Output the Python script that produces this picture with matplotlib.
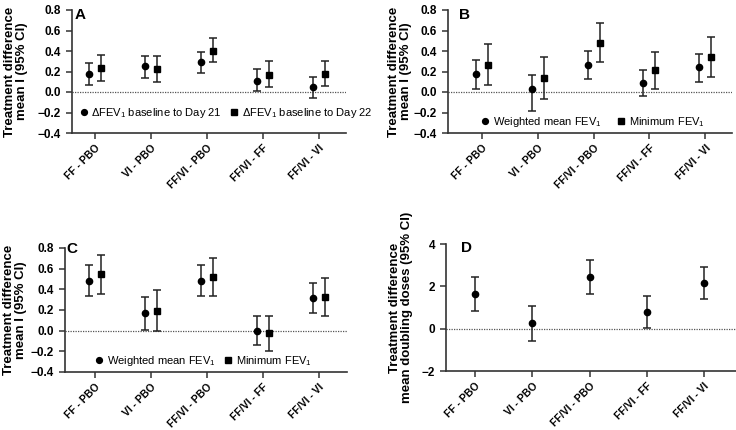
import matplotlib
matplotlib.use("Agg")
import matplotlib.pyplot as plt
from matplotlib.lines import Line2D
import numpy as np

plt.rcParams['font.family'] = ['Liberation Sans', 'DejaVu Sans']
plt.rcParams['mathtext.default'] = 'regular'

categories = ["FF - PBO", "VI - PBO", "FF/VI - PBO", "FF/VI - FF", "FF/VI - VI"]

# panel A: change in FEV1 from baseline
a_d21 = [0.18, 0.25, 0.29, 0.11, 0.05]
a_d21_lo = [0.07, 0.14, 0.19, 0.01, -0.06]
a_d21_hi = [0.28, 0.35, 0.39, 0.22, 0.15]
a_d22 = [0.23, 0.22, 0.40, 0.17, 0.18]
a_d22_lo = [0.11, 0.10, 0.29, 0.05, 0.06]
a_d22_hi = [0.36, 0.35, 0.53, 0.30, 0.30]

# panel B: weighted mean / minimum FEV1
b_wm = [0.18, 0.03, 0.26, 0.09, 0.24]
b_wm_lo = [0.03, -0.19, 0.13, -0.04, 0.10]
b_wm_hi = [0.31, 0.17, 0.40, 0.215, 0.375]
b_min = [0.265, 0.135, 0.48, 0.215, 0.34]
b_min_lo = [0.07, -0.07, 0.29, 0.03, 0.145]
b_min_hi = [0.465, 0.345, 0.675, 0.39, 0.535]

# panel C: weighted mean / minimum FEV1
c_wm = [0.485, 0.17, 0.485, 0.0, 0.32]
c_wm_lo = [0.335, 0.01, 0.335, -0.14, 0.17]
c_wm_hi = [0.64, 0.33, 0.64, 0.14, 0.465]
c_min = [0.545, 0.195, 0.515, -0.025, 0.325]
c_min_lo = [0.355, 0.0, 0.335, -0.20, 0.14]
c_min_hi = [0.735, 0.39, 0.705, 0.14, 0.505]

# panel D: doubling doses
d_mean = [1.62, 0.25, 2.43, 0.80, 2.17]
d_lo = [0.82, -0.57, 1.64, 0.03, 1.39]
d_hi = [2.43, 1.09, 3.23, 1.56, 2.93]

W, H = 736, 430
fig = plt.figure(figsize=(W / 100, H / 100), dpi=100)


def px_axes(left, top, right, bottom):
    return fig.add_axes([left / W, 1 - bottom / H, (right - left) / W, (bottom - top) / H])


def style(ax, xlim, ylim, yticks, yfmt):
    ax.set_xlim(*xlim)
    ax.set_ylim(*ylim)
    ax.spines['top'].set_visible(False)
    ax.spines['right'].set_visible(False)
    for s in ('left', 'bottom'):
        ax.spines[s].set_linewidth(1.2)
        ax.spines[s].set_color('#333333')
    ax.axhline(0, color='#555555', lw=0.9, ls=(0, (1, 1)), zorder=1)
    ax.set_yticks(yticks)
    ax.set_yticklabels([yfmt(v) for v in yticks], fontsize=8.5, fontweight='bold')
    x = np.arange(1, len(categories) + 1)
    ax.set_xticks(x)
    ax.set_xticklabels(categories, rotation=45, ha='right', va='top',
                       rotation_mode='anchor', fontsize=7.5, fontweight='bold')
    ax.tick_params(axis='both', direction='out', length=4, width=1.1, color='#333333')
    ax.tick_params(axis='y', pad=4)
    ax.tick_params(axis='x', pad=3)


def ebar(ax, xs, m, lo, hi, marker):
    m = np.asarray(m)
    yerr = [m - np.asarray(lo), np.asarray(hi) - m]
    ax.errorbar(xs, m, yerr=yerr, fmt=marker, color='black', ms=4.5,
                ecolor='#222222', elinewidth=1.1, capsize=3, capthick=1.1, zorder=3)


def legend(ax, labels, anchor, colsp):
    handles = [Line2D([], [], ls='none', marker='o', color='black', ms=4.2),
               Line2D([], [], ls='none', marker='s', color='black', ms=4.2)]
    ax.legend(handles, labels, loc='center left', bbox_to_anchor=anchor, ncol=2,
              frameon=False, fontsize=8, handlelength=0.6, handletextpad=0.4,
              columnspacing=colsp, borderpad=0, borderaxespad=0)


def ylabel(xc, ax, text):
    bb = ax.get_position()
    fig.text(xc / W, bb.y0 + bb.height / 2, text, rotation=90, ha='center', va='center',
             multialignment='center', fontsize=9.5, fontweight='bold', linespacing=1.1)


x = np.arange(1, len(categories) + 1)
off = 0.107
f1 = lambda v: f"{v:.1f}".replace('-', '\u2212')
yt = [-0.4, -0.2, 0.0, 0.2, 0.4, 0.6, 0.8]

# A
axA = px_axes(72, 10, 346, 133)
style(axA, (0.59, 5.48), (-0.4, 0.8), yt, f1)
ebar(axA, x - off, a_d21, a_d21_lo, a_d21_hi, 'o')
ebar(axA, x + off, a_d22, a_d22_lo, a_d22_hi, 's')
legend(axA, [r"$\Delta$FEV$_1$ baseline to Day 21", r"$\Delta$FEV$_1$ baseline to Day 22"],
       (0.03, 0.16), 0.8)
axA.text(0.01, 1.02, "A", transform=axA.transAxes, fontsize=11, fontweight='bold', va='top')
ylabel(16, axA, "Treatment difference\nmean I (95% CI)")

# B
axB = px_axes(448, 10, 732, 133)
style(axB, (0.39, 5.48), (-0.4, 0.8), yt, f1)
ebar(axB, x - off, b_wm, b_wm_lo, b_wm_hi, 'o')
ebar(axB, x + off, b_min, b_min_lo, b_min_hi, 's')
legend(axB, [r"Weighted mean FEV$_1$", r"Minimum FEV$_1$"], (0.12, 0.09), 1.4)
axB.text(0.04, 1.02, "B", transform=axB.transAxes, fontsize=11, fontweight='bold', va='top')
ylabel(400, axB, "Treatment difference\nmean I (95% CI)")

# C
axC = px_axes(65, 248, 347, 372)
style(axC, (0.46, 5.5), (-0.4, 0.8), yt, f1)
ebar(axC, x - off, c_wm, c_wm_lo, c_wm_hi, 'o')
ebar(axC, x + off, c_min, c_min_lo, c_min_hi, 's')
legend(axC, [r"Weighted mean FEV$_1$", r"Minimum FEV$_1$"], (0.11, 0.09), 0.8)
axC.text(0.005, 1.05, "C", transform=axC.transAxes, fontsize=11, fontweight='bold', va='top')
ylabel(15, axC, "Treatment difference\nmean I (95% CI)")

# D
axD = px_axes(446, 244, 736, 371)
style(axD, (0.49, 5.56), (-2, 4), [-2, 0, 2, 4], lambda v: f"{v:d}".replace('-', '\u2212'))
ebar(axD, x, d_mean, d_lo, d_hi, 'o')
axD.text(0.05, 1.02, "D", transform=axD.transAxes, fontsize=11, fontweight='bold', va='top')
ylabel(401, axD, "Treatment difference\nmean doubling doses (95% CI)")

fig.savefig("out.png", dpi=100)
